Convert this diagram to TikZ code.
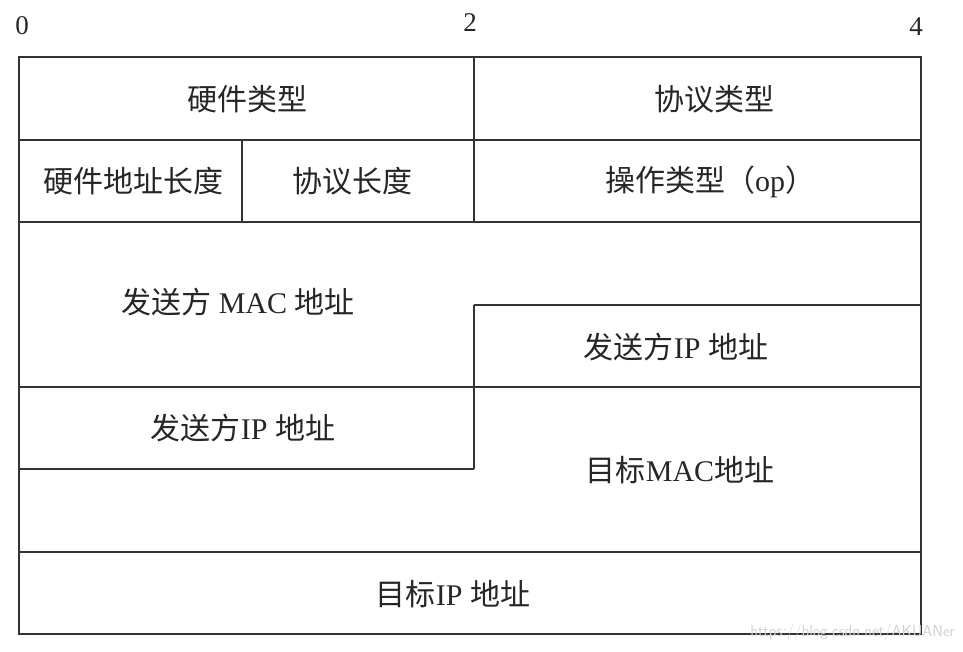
\documentclass[tikz,border=0pt]{standalone}
\usepackage{fontspec}
\setmainfont{Liberation Serif}
\newfontfamily\cjk{Noto Sans CJK SC}
\tikzset{
  frame/.style={line width=1.8pt, draw=black!80},
  lbl/.style={inner sep=0pt, font=\fontsize{30}{34}\selectfont, text=black!85},
  ruler/.style={inner sep=0pt, font=\fontsize{27}{30}\selectfont, text=black!85},
  wmark/.style={inner sep=0pt, font=\sffamily\fontsize{16}{18}\selectfont, text=black!18}
}
\begin{document}
\begin{tikzpicture}[x=1pt,y=-1pt]
\useasboundingbox (0,0) rectangle (963,652);
% ruler labels
\node[ruler] (r0) at (22,26) {0};
\node[ruler] (r2) at (470,23) {2};
\node[ruler] (r4) at (916,27) {4};
% frame
\draw[frame] (19,57) rectangle (921,634);
\draw[frame] (19,140) -- (921,140);
\draw[frame] (19,222) -- (921,222);
\draw[frame] (474,305) -- (921,305);
\draw[frame] (19,387) -- (921,387);
\draw[frame] (19,469) -- (474,469);
\draw[frame] (19,552) -- (921,552);
\draw[frame] (474,57) -- (474,222);
\draw[frame] (242,140) -- (242,222);
\draw[frame] (474,305) -- (474,469);
% labels
\node[lbl] (hwtype) at (247,99) {\cjk 硬件类型};
\node[lbl] (prtype) at (714,99) {\cjk 协议类型};
\node[lbl] (hwlen) at (133,181) {\cjk 硬件地址长度};
\node[lbl] (prlen) at (352,181) {\cjk 协议长度};
\node[lbl] (op) at (710,182) {{\cjk 操作类型（}op{\cjk ）}};
\node[lbl] (smac) at (238,302) {{\cjk 发送方} MAC {\cjk 地址}};
\node[lbl] (sipr) at (676,347) {{\cjk 发送方}IP {\cjk 地址}};
\node[lbl] (sipl) at (243,428) {{\cjk 发送方}IP {\cjk 地址}};
\node[lbl] (tmac) at (680,470) {{\cjk 目标}MAC{\cjk 地址}};
\node[lbl] (tip) at (453,594) {{\cjk 目标}IP {\cjk 地址}};
\node[wmark, anchor=east] (wm) at (955,632) {https://blog.csdn.net/AKUANer};
\end{tikzpicture}
\end{document}
